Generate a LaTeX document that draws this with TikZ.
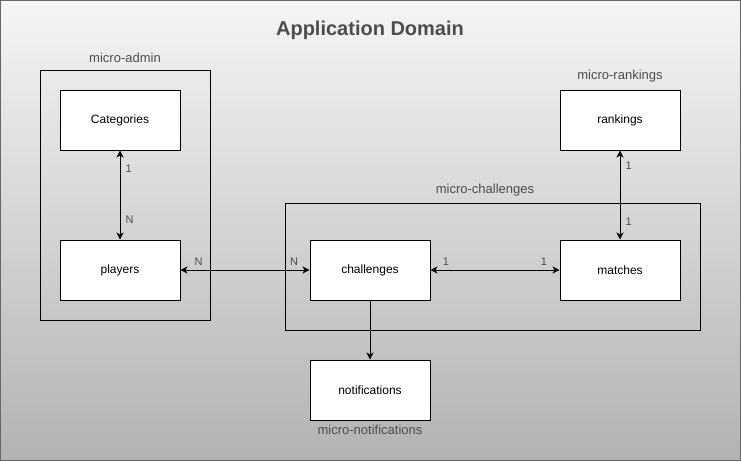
\documentclass[tikz,border=0pt]{standalone}
\usepackage{fontspec}
\setmainfont{Liberation Sans}
\usetikzlibrary{arrows.meta}
\usetikzlibrary{positioning}

\definecolor{labelgray}{HTML}{4D4D4D}

\begin{document}
\begin{tikzpicture}[x=1pt, y=-1pt, line width=1pt,
    service/.style = {draw, fill=white, minimum width=120pt, minimum height=60pt,
        inner sep=0pt, font=\fontsize{12}{14}\selectfont},
    group/.style = {draw, minimum width=#1, inner sep=0pt},
    grouplabel/.style = {text=labelgray, font=\fontsize{13}{15}\selectfont},
    card/.style = {text=labelgray, font=\fontsize{11}{13}\selectfont, inner sep=1pt},
    rel/.style = {{Stealth[length=7pt,width=7pt,inset=2pt]}-{Stealth[length=7pt,width=7pt,inset=2pt]}},
    flow/.style = {-{Stealth[length=7pt,width=7pt,inset=2pt]}}]
    \useasboundingbox (0,0) rectangle (741,461);
    \shade[top color=white!96!black, bottom color=black!30, draw=black!60]
        (0.5,0.5) rectangle (740.5,460.5);
    \node[text=labelgray, font=\fontsize{20}{24}\selectfont\bfseries] (title) at (370,30) {Application Domain};
    \node[group=170pt, minimum height=250pt] (admin) at (125,195) {};
    \node[group=415pt, minimum height=127pt] (arena) at (492.5,266.5) {};
    \node[grouplabel] (adminlabel) at (125,58) {micro-admin};
    \node[grouplabel] (arenalabel) at (485,190) {micro-challenges};
    \node[service] (categories) at (120,120) {Categories};
    \node[service] (players) at (120,270) {players};
    \node[service] (challenges) at (370,270) {challenges};
    \node[service] (matches) at (620,270) {matches};
    \node[service] (rankings) at (620,120) {rankings};
    \node[service] (notifications) at (370,390) {notifications};
    \node[grouplabel, above=3pt of rankings] (rankinglabel) {micro-rankings};
    \node[grouplabel, below=1pt of notifications] (notiflabel) {micro-notifications};
    \draw[rel] (categories) -- node[card, pos=0.2, right=4pt] {1} node[card, pos=0.78, right=4pt] {N} (players);
    \draw[rel] (players) -- node[card, pos=0.14, above=3pt] {N} node[card, pos=0.88, above=3pt] {N} (challenges);
    \draw[rel] (challenges) -- node[card, pos=0.12, above=3pt] {1} node[card, pos=0.88, above=3pt] {1} (matches);
    \draw[rel] (rankings) -- node[card, pos=0.17, right=4pt] {1} node[card, pos=0.8, right=4pt] {1} (matches);
    \draw[flow] (challenges) -- (notifications);
\end{tikzpicture}
\end{document}
